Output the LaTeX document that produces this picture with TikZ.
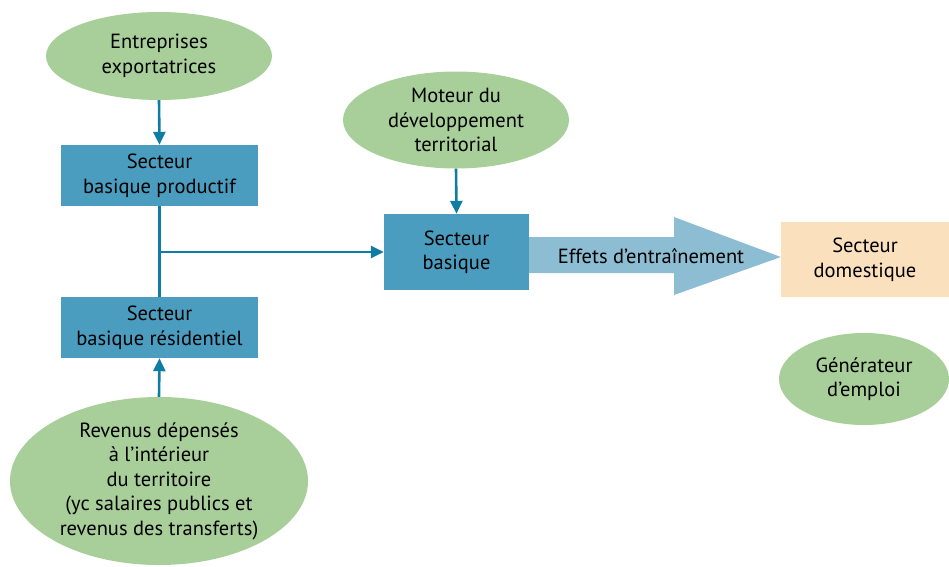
\documentclass[tikz,border=0pt]{standalone}
\usepackage{fontspec}
\setmainfont{PT Sans}
\usetikzlibrary{arrows.meta,shapes.geometric}
\definecolor{ellgreen}{HTML}{A8CF9A}
\definecolor{boxblue}{HTML}{4A9DBF}
\definecolor{linkblue}{HTML}{0F7DA3}
\definecolor{bigarrow}{HTML}{8DBDD3}
\definecolor{domfill}{HTML}{FAE0BD}
\begin{document}
\begin{tikzpicture}[x=1pt,y=-1pt,
  every node/.style={font=\fontsize{20.5}{24.5}\selectfont, align=center, text=black, inner sep=0pt},
  sbox/.style={rectangle, fill=boxblue},
  link/.style={draw=linkblue, line width=2.6pt, -{Triangle[length=13pt,width=12pt]}},
  plain/.style={draw=linkblue, line width=2.6pt}]
\useasboundingbox (0,0) rectangle (949,566);

\node[ellipse, fill=ellgreen, minimum width=226pt, minimum height=88pt] (ent) at (159,56) {Entreprises\\exportatrices};
\node[sbox, minimum width=197pt, minimum height=61pt] (bp) at (159.5,175.5) {Secteur\\basique productif};
\node[sbox, minimum width=197pt, minimum height=61pt] (br) at (159.5,327.5) {Secteur\\basique résidentiel};
\node[ellipse, fill=ellgreen, minimum width=298pt, minimum height=168pt] (rev) at (159,481) {Revenus dépensés\\à l’intérieur\\du territoire\\(yc salaires publics et\\revenus des transferts)};
\node[ellipse, fill=ellgreen, minimum width=226pt, minimum height=97pt] (mot) at (456,120) {Moteur du\\développement\\territorial};
\node[sbox, minimum width=145pt, minimum height=76pt] (sb) at (456.5,252) {Secteur\\basique};
\node[rectangle, fill=domfill, minimum width=168pt, minimum height=75pt] (dom) at (865,259.5) {Secteur\\domestique};
\node[ellipse, fill=ellgreen, minimum width=170pt, minimum height=92pt] (gen) at (864,379) {Générateur\\d’emploi};

\coordinate (j) at (159.5,252);

\draw[link] (ent.south) -- (bp.north);
\draw[plain] (bp.south) -- (br.north);
\draw[link] (j) -- (sb.west);
\draw[link] (rev.north) -- (br.south);
\draw[link] (mot.south) -- (sb.north);

% big arrow
\fill[bigarrow] (sb.east |- 0,237) -- (674,237) -- (674,217) -- (dom.west |- 0,257) -- (674,295) -- (674,273) -- (sb.east |- 0,273) -- cycle;
\node (eff) at (651,256) {Effets d’entraînement};
\end{tikzpicture}
\end{document}
